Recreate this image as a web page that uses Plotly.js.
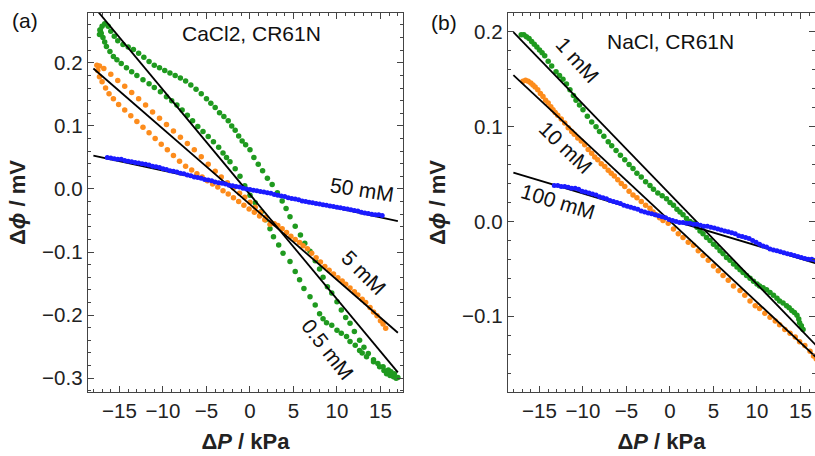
<!DOCTYPE html>
<html><head><meta charset="utf-8">
<script src="https://cdn.plot.ly/plotly-3.0.1.min.js"></script>
<style>html,body{margin:0;padding:0;background:#fff}</style>
</head><body>
<div id="chart" style="width:815px;height:456px"></div>
<script>
// ---------- Panel (a): CaCl2, CR61N ----------
const a_green_up_x = [-17.3,-17.2,-17.0,-16.7,-16.3,-16.0,-15.6,-15.2,-14.6,-14.0,-13.4,-12.8,-12.2,-11.6,-11.0,-10.4,-9.8,-9.2,-8.6,-8.0,-7.4,-6.8,-6.2,-5.6,-5.0,-4.5,-4.0,-3.5,-3.0,-2.5,-2.1,-1.7,-1.3,-0.9,-0.5,0.0,0.45,0.95,1.45,2.0,2.55,3.15,3.7,4.15,4.6,5.2,5.8,6.3,6.9,7.5,8.0,8.4,8.9,9.4,10.0,10.5,11.0,11.5,12.0,12.6,13.1,13.6,14.2,14.9,15.4,15.7,16.1,16.5,16.8,17.0];
const a_green_up_y = [0.245,0.252,0.258,0.262,0.258,0.250,0.242,0.235,0.229,0.225,0.221,0.215,0.209,0.202,0.196,0.192,0.188,0.184,0.180,0.176,0.171,0.165,0.158,0.151,0.143,0.136,0.129,0.121,0.115,0.108,0.100,0.093,0.084,0.076,0.070,0.062,0.050,0.039,0.029,0.017,0.007,-0.006,-0.019,-0.031,-0.044,-0.059,-0.073,-0.086,-0.099,-0.114,-0.127,-0.140,-0.155,-0.165,-0.179,-0.192,-0.204,-0.213,-0.226,-0.240,-0.251,-0.261,-0.271,-0.282,-0.288,-0.293,-0.296,-0.298,-0.300,-0.299];
const a_green_lo_x = [16.6,16.2,15.9,15.3,14.7,14.2,13.4,12.9,12.6,12.1,11.5,11.1,10.5,10.0,9.4,8.8,8.4,8.0,7.5,6.9,6.2,5.7,5.2,4.6,3.8,3.3,2.7,2.3,1.8,1.3,0.6,0.0,-0.6,-1.15,-1.7,-2.3,-2.7,-3.1,-3.6,-4.2,-4.8,-5.4,-6.0,-6.6,-7.2,-7.8,-8.4,-9.0,-9.6,-10.3,-11.0,-11.6,-12.3,-13.0,-13.6,-14.2,-14.8,-15.3,-15.7,-16.1,-16.5,-16.7,-16.9,-17.1,-17.25];
const a_green_lo_y = [-0.293,-0.290,-0.287,-0.282,-0.277,-0.274,-0.266,-0.260,-0.256,-0.248,-0.242,-0.234,-0.229,-0.224,-0.216,-0.212,-0.206,-0.198,-0.184,-0.171,-0.158,-0.144,-0.131,-0.115,-0.102,-0.089,-0.076,-0.063,-0.049,-0.036,-0.022,-0.010,0.005,0.020,0.032,0.043,0.050,0.057,0.066,0.075,0.083,0.091,0.099,0.108,0.117,0.125,0.133,0.140,0.146,0.154,0.161,0.167,0.173,0.180,0.186,0.192,0.199,0.205,0.210,0.218,0.226,0.233,0.240,0.247,0.252];

const a_orange_right_x = [15.6,15.3,15.0,14.6,14.2,13.8,13.3,12.9,12.4,12.0,11.5,11.0,10.6,10.1,9.6,9.1,8.6,8.1,7.6,7.1,6.6,6.1,5.7,5.2,4.7,4.2,3.7,3.2,2.8];
const a_orange_right_y = [-0.221,-0.214,-0.209,-0.201,-0.195,-0.188,-0.180,-0.175,-0.168,-0.163,-0.157,-0.151,-0.146,-0.141,-0.135,-0.129,-0.123,-0.116,-0.109,-0.102,-0.095,-0.090,-0.085,-0.080,-0.075,-0.069,-0.063,-0.058,-0.055];
const a_orange_up_x = [2.4,1.8,1.2,0.6,0.0,-0.6,-1.2,-1.9,-2.6,-3.3,-4.0,-4.8,-5.6,-6.4,-7.2,-8.0,-8.8,-9.6,-10.4,-11.2,-12.0,-12.8,-13.6,-14.4,-15.2,-16.0,-16.8,-17.3,-17.6];
const a_orange_up_y = [-0.053,-0.045,-0.037,-0.029,-0.021,-0.013,-0.007,0.002,0.010,0.019,0.028,0.039,0.051,0.062,0.072,0.082,0.092,0.102,0.112,0.122,0.133,0.143,0.153,0.163,0.172,0.182,0.191,0.195,0.196];
const a_orange_lo_x = [-17.5,-17.3,-17.0,-16.6,-16.2,-15.7,-15.1,-14.4,-13.7,-13.0,-12.3,-11.6,-10.9,-10.2,-9.5,-8.8,-8.1,-7.4,-6.7,-6.1,-5.5,-4.9,-4.3,-3.7,-3.1,-2.5,-1.9,-1.3,-0.7,-0.1,0.5,1.1,1.7,2.3];
const a_orange_lo_y = [0.188,0.178,0.170,0.160,0.151,0.143,0.134,0.125,0.116,0.107,0.098,0.089,0.080,0.071,0.062,0.053,0.044,0.036,0.030,0.024,0.019,0.013,0.008,0.003,-0.003,-0.008,-0.014,-0.020,-0.026,-0.032,-0.037,-0.043,-0.049,-0.056];

const a_blue_x = [-16.4,-16.0,-15.6,-15.2,-14.8,-14.4,-14.0,-13.6,-13.2,-12.8,-12.4,-12.0,-11.6,-11.2,-10.8,-10.4,-10.0,-9.6,-9.2,-8.8,-8.4,-8.0,-7.6,-7.2,-6.8,-6.4,-6.0,-5.6,-5.2,-4.8,-4.4,-4.0,-3.6,-3.2,-2.8,-2.4,-2.0,-1.6,-1.2,-0.8,-0.4,0.0,0.4,0.8,1.2,1.6,2.0,2.4,2.8,3.2,3.6,4.0,4.4,4.8,5.2,5.6,6.0,6.4,6.8,7.2,7.6,8.0,8.4,8.8,9.2,9.6,10.0,10.4,10.8,11.2,11.6,12.0,12.4,12.8,13.2,13.6,14.0,14.4,14.8,15.2];
const a_blue_y = [0.050,0.049,0.048,0.047,0.047,0.045,0.044,0.043,0.042,0.041,0.040,0.039,0.038,0.036,0.035,0.034,0.032,0.031,0.029,0.028,0.027,0.025,0.024,0.022,0.021,0.019,0.018,0.017,0.015,0.014,0.013,0.011,0.010,0.009,0.008,0.006,0.005,0.004,0.003,0.001,0.000,-0.001,-0.002,-0.003,-0.004,-0.005,-0.006,-0.007,-0.009,-0.010,-0.011,-0.012,-0.014,-0.015,-0.016,-0.017,-0.019,-0.020,-0.021,-0.022,-0.023,-0.024,-0.025,-0.026,-0.027,-0.028,-0.029,-0.030,-0.031,-0.032,-0.033,-0.034,-0.035,-0.037,-0.038,-0.039,-0.040,-0.041,-0.041,-0.042];

// fitted lines, panel (a): endpoints
const a_fit_x = [-18, 17];
const a_fit_05_y = [0.290, -0.291];
const a_fit_5_y = [0.191, -0.228];
const a_fit_50_y = [0.053, -0.051];

// ---------- Panel (b): NaCl, CR61N ----------
const b_green_x = [-17.1,-16.8,-16.5,-16.2,-15.9,-15.6,-15.3,-15.0,-14.7,-14.4,-14.0,-13.6,-13.1,-12.7,-12.3,-11.9,-11.5,-11.1,-10.8,-10.4,-10.0,-9.5,-9.0,-8.5,-8.1,-7.6,-7.1,-6.7,-6.2,-5.7,-5.2,-4.7,-4.25,-3.8,-3.3,-2.8,-2.3,-1.9,-1.4,-0.9,-0.4,0.0,0.4,0.8,1.15,1.5,1.9,2.3,2.7,3.1,3.45,3.8,4.2,4.6,5.0,5.4,5.75,6.1,6.5,6.9,7.3,7.7,8.05,8.4,8.8,9.2,9.6,10.0,10.3,10.7,11.1,11.5,11.9,12.3,12.6,13.0,13.4,13.7,14.0,14.3,14.6,14.8,14.9,15.1,15.3];
const b_green_y = [0.197,0.197,0.195,0.193,0.190,0.187,0.184,0.181,0.178,0.175,0.169,0.164,0.158,0.154,0.150,0.145,0.139,0.133,0.128,0.123,0.118,0.111,0.105,0.100,0.095,0.090,0.084,0.080,0.075,0.070,0.065,0.060,0.056,0.051,0.047,0.042,0.038,0.034,0.030,0.027,0.024,0.020,0.017,0.013,0.010,0.007,0.003,0.000,-0.002,-0.006,-0.010,-0.013,-0.017,-0.020,-0.024,-0.027,-0.031,-0.034,-0.038,-0.041,-0.045,-0.048,-0.051,-0.054,-0.057,-0.060,-0.063,-0.066,-0.068,-0.070,-0.072,-0.075,-0.078,-0.081,-0.084,-0.086,-0.089,-0.091,-0.094,-0.096,-0.099,-0.103,-0.107,-0.110,-0.114];

const b_orange_x = [-16.9,-16.6,-16.3,-16.0,-15.75,-15.5,-15.2,-14.9,-14.6,-14.3,-14.0,-13.7,-13.45,-13.2,-12.9,-12.5,-12.1,-11.7,-11.3,-11.0,-10.6,-10.2,-9.8,-9.4,-9.0,-8.65,-8.3,-7.9,-7.5,-7.1,-6.75,-6.4,-6.0,-5.6,-5.2,-4.7,-4.25,-3.8,-3.3,-2.8,-2.3,-1.95,-1.6,-1.2,-0.8,-0.2,0.4,0.95,1.5,2.1,2.7,3.25,3.8,4.4,5.0,5.55,6.1,6.7,7.3,8.05,8.6,9.2,9.8,10.3,10.9,11.5,12.1,12.6,13.2,13.8,14.4,14.9,15.5,16.1,16.5,16.8];
const b_orange_y = [0.148,0.149,0.148,0.146,0.144,0.142,0.139,0.135,0.132,0.128,0.125,0.121,0.118,0.115,0.112,0.108,0.104,0.099,0.095,0.092,0.088,0.085,0.081,0.076,0.072,0.068,0.065,0.061,0.058,0.054,0.051,0.048,0.044,0.040,0.037,0.032,0.028,0.025,0.021,0.017,0.014,0.010,0.007,0.004,0.001,-0.002,-0.008,-0.013,-0.017,-0.022,-0.025,-0.031,-0.036,-0.041,-0.047,-0.052,-0.057,-0.062,-0.068,-0.073,-0.078,-0.084,-0.089,-0.092,-0.097,-0.101,-0.105,-0.109,-0.114,-0.118,-0.122,-0.127,-0.131,-0.137,-0.142,-0.145];

const b_blue_x = [-13.3,-12.9,-12.5,-12.1,-11.7,-11.3,-10.9,-10.5,-10.1,-9.7,-9.3,-8.9,-8.5,-8.1,-7.7,-7.3,-6.9,-6.5,-6.1,-5.7,-5.3,-4.9,-4.5,-4.1,-3.7,-3.3,-2.9,-2.5,-2.1,-1.7,-1.3,-0.9,-0.5,-0.1,0.3,0.7,1.1,1.5,1.9,2.3,2.7,3.1,3.5,3.9,4.3,4.7,5.1,5.5,5.9,6.3,6.7,7.1,7.5,7.9,8.3,8.7,9.1,9.5,9.9,10.3,10.7,11.1,11.5,11.9,12.3,12.7,13.1,13.5,13.9,14.3,14.7,15.1,15.5,15.9,16.3,16.7];
const b_blue_y = [0.038,0.038,0.037,0.037,0.036,0.035,0.035,0.034,0.032,0.031,0.030,0.029,0.028,0.026,0.025,0.024,0.022,0.021,0.020,0.019,0.017,0.016,0.015,0.014,0.013,0.011,0.010,0.009,0.008,0.007,0.006,0.005,0.004,0.002,0.001,0.000,-0.001,-0.001,-0.002,-0.002,-0.003,-0.003,-0.004,-0.005,-0.005,-0.006,-0.007,-0.008,-0.009,-0.010,-0.011,-0.012,-0.013,-0.015,-0.016,-0.017,-0.018,-0.020,-0.022,-0.024,-0.026,-0.027,-0.029,-0.030,-0.031,-0.032,-0.033,-0.034,-0.035,-0.036,-0.037,-0.038,-0.039,-0.040,-0.040,-0.041];

const b_fit_x = [-18, 17];
const b_fit_1_y = [0.1998, -0.1327];
const b_fit_10_y = [0.1545, -0.1451];
const b_fit_100_y = [0.0515, -0.0448];

// ---------- styling ----------
const GREEN = '#1f9a1f', ORANGE = '#fd8c1c', BLUE = '#1b1bff';
const FONT = 'Liberation Sans, Arial, Helvetica, sans-serif';

function pts(x, y, color, size, xa, ya) {
  return {x: x, y: y, type: 'scatter', mode: 'markers', xaxis: xa, yaxis: ya,
    marker: {color: color, size: size, line: {width: 0}}, hoverinfo: 'skip'};
}
function fit(x, y, xa, ya) {
  return {x: x, y: y, type: 'scatter', mode: 'lines', xaxis: xa, yaxis: ya,
    line: {color: '#000', width: 1.8}, hoverinfo: 'skip'};
}

const data = [
  pts(a_green_up_x, a_green_up_y, GREEN, 5.5, 'x', 'y'),
  pts(a_green_lo_x, a_green_lo_y, GREEN, 5.5, 'x', 'y'),
  pts(a_orange_right_x, a_orange_right_y, ORANGE, 5.5, 'x', 'y'),
  pts(a_orange_up_x, a_orange_up_y, ORANGE, 5.5, 'x', 'y'),
  pts(a_orange_lo_x, a_orange_lo_y, ORANGE, 5.5, 'x', 'y'),
  fit(a_fit_x, a_fit_05_y, 'x', 'y'),
  fit(a_fit_x, a_fit_5_y, 'x', 'y'),
  fit(a_fit_x, a_fit_50_y, 'x', 'y'),
  pts(a_blue_x, a_blue_y, BLUE, 5, 'x', 'y'),

  pts(b_green_x, b_green_y, GREEN, 5.5, 'x2', 'y2'),
  pts(b_orange_x, b_orange_y, ORANGE, 5.5, 'x2', 'y2'),
  fit(b_fit_x, b_fit_1_y, 'x2', 'y2'),
  fit(b_fit_x, b_fit_10_y, 'x2', 'y2'),
  fit(b_fit_x, b_fit_100_y, 'x2', 'y2'),
  pts(b_blue_x, b_blue_y, BLUE, 5, 'x2', 'y2')
];

const AX = '#444';
function xAxis(domain, range, anchor) {
  return {domain: domain, range: range, anchor: anchor,
    showline: true, mirror: 'allticks', linecolor: AX, linewidth: 1.3,
    ticks: 'inside', ticklen: 6, tickwidth: 1, tickcolor: AX,
    tick0: 0, dtick: 5,
    minor: {dtick: 1, ticks: 'inside', ticklen: 3, tickwidth: 1, tickcolor: AX},
    showgrid: false, zeroline: false,
    tickfont: {family: FONT, size: 20.5, color: '#222'},
    title: {text: '<b>Δ<i>P</i> / kPa</b>', font: {family: FONT, size: 22, color: '#222'}, standoff: 12}
  };
}
function yAxis(domain, range, anchor) {
  return {domain: domain, range: range, anchor: anchor,
    showline: true, mirror: 'allticks', linecolor: AX, linewidth: 1.3,
    ticks: 'inside', ticklen: 6, tickwidth: 1, tickcolor: AX,
    tick0: 0, dtick: 0.1, tickformat: '.1f',
    minor: {dtick: 0.02, ticks: 'inside', ticklen: 3, tickwidth: 1, tickcolor: AX},
    showgrid: false, zeroline: false,
    tickfont: {family: FONT, size: 20.5, color: '#222'},
    title: {text: '<b>Δ<i>ϕ</i> / mV</b>', font: {family: FONT, size: 22, color: '#222'}, standoff: 10}
  };
}

const yDom = [64/456, 443/456];
const layout = {
  width: 815, height: 456,
  margin: {l: 0, r: 0, t: 0, b: 0},
  paper_bgcolor: '#fff', plot_bgcolor: '#fff',
  showlegend: false,
  xaxis: xAxis([88/815, 403/815], [-18.62, 17.59], 'y'),
  yaxis: yAxis(yDom, [-0.322, 0.279], 'x'),
  xaxis2: xAxis([508/815, 1], [-18.62, 16.67], 'y2'),
  yaxis2: yAxis(yDom, [-0.180, 0.220], 'x2'),
  annotations: [
    {text: '(a)', x: 25/815, y: 1-20/456},
    {text: '(b)', x: 444/815, y: 1-22/456},
    {text: 'CaCl2, CR61N', x: 251/815, y: 1-33/456},
    {text: 'NaCl, CR61N', x: 670/815, y: 1-41/456},
    {text: '50 mM', x: 362/815, y: 1-189/456, textangle: 9},
    {text: '5 mM', x: 364/815, y: 1-272/456, textangle: 45},
    {text: '0.5 mM', x: 328/815, y: 1-349/456, textangle: 52},
    {text: '1 mM', x: 577/815, y: 1-60/456, textangle: 48},
    {text: '10 mM', x: 566/815, y: 1-147/456, textangle: 44},
    {text: '100 mM', x: 558/815, y: 1-202/456, textangle: 17}
  ].map(a => Object.assign({xref: 'paper', yref: 'paper', showarrow: false,
      xanchor: 'center', yanchor: 'middle', font: {family: FONT, size: 21, color: '#111'}}, a))
};

Plotly.newPlot('chart', data, layout, {staticPlot: true, displayModeBar: false});
</script>
</body></html>
